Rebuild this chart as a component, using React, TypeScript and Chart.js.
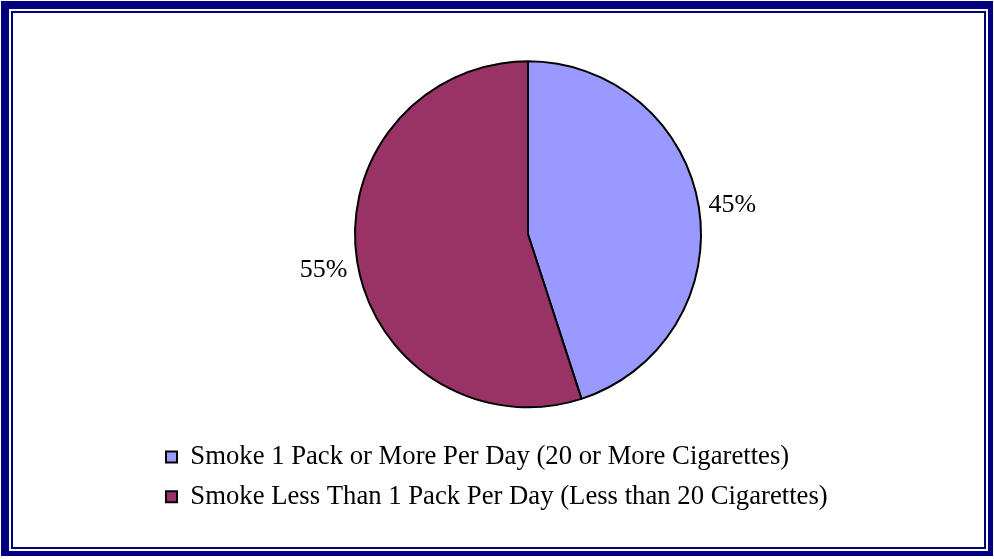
import React, { useEffect, useRef } from "react";
import { Chart, registerables } from "chart.js";

Chart.register(...registerables);

const categories = [
  "Smoke 1 Pack or More Per Day (20 or More Cigarettes)",
  "Smoke Less Than 1 Pack Per Day (Less than 20 Cigarettes)",
];
const shares = [45, 55];
const sliceColors = ["#9999FF", "#993366"];

const SERIF = "'Liberation Serif', 'Times New Roman', Times, serif";
const NAVY = "#000080";

// Percentage labels placed just outside each slice, along its mid angle
const outsideLabels = {
  id: "outsideLabels",
  afterDatasetsDraw(chart: Chart) {
    const { ctx } = chart;
    const meta = chart.getDatasetMeta(0);
    const values = chart.data.datasets[0].data as number[];
    const total = values.reduce((a, b) => a + b, 0);
    ctx.save();
    ctx.font = `26px ${SERIF}`;
    ctx.fillStyle = "#000";
    ctx.textAlign = "center";
    ctx.textBaseline = "middle";
    meta.data.forEach((el: any, i: number) => {
      const { x, y, startAngle, endAngle, outerRadius } = el.getProps(
        ["x", "y", "startAngle", "endAngle", "outerRadius"],
        true
      );
      const mid = (startAngle + endAngle) / 2;
      const r = outerRadius + 34;
      const pct = Math.round((values[i] / total) * 100);
      ctx.fillText(`${pct}%`, x + Math.cos(mid) * r, y + Math.sin(mid) * r + 3);
    });
    ctx.restore();
  },
};

export default function App() {
  const canvasRef = useRef<HTMLCanvasElement | null>(null);

  useEffect(() => {
    if (!canvasRef.current) return;
    const chart = new Chart(canvasRef.current, {
      type: "pie",
      data: {
        labels: categories,
        datasets: [
          {
            data: shares,
            backgroundColor: sliceColors,
            borderColor: "#000",
            borderWidth: 2,
          },
        ],
      },
      options: {
        animation: false,
        responsive: false,
        radius: 173,
        layout: { padding: { top: 38, left: 153, right: 91, bottom: 39 } },
        plugins: {
          tooltip: { enabled: false },
          legend: {
            position: "bottom",
            align: "start",
            labels: {
              boxWidth: 11,
              boxHeight: 11,
              padding: 13,
              color: "#000",
              font: { family: SERIF, size: 26.7 },
              generateLabels: (c: Chart) =>
                (c.data.labels as string[]).map((text, i) => ({
                  text,
                  fillStyle: sliceColors[i],
                  strokeStyle: "#000",
                  lineWidth: 2,
                  hidden: false,
                  index: i,
                  fontColor: "#000",
                })),
            },
          },
        },
      },
      plugins: [outsideLabels],
    });
    return () => chart.destroy();
  }, []);

  return (
    <div
      style={{
        position: "fixed",
        left: 0,
        top: 0,
        width: 994,
        height: 559,
        background: "#fff",
      }}
    >
      <div
        style={{
          position: "absolute",
          left: 1,
          top: 1,
          width: 992,
          height: 555,
          boxSizing: "border-box",
          borderStyle: "solid",
          borderColor: NAVY,
          borderWidth: "8px 5px 5px 8px",
        }}
      />
      <div
        style={{
          position: "absolute",
          left: 11,
          top: 11,
          width: 975,
          height: 538,
          boxSizing: "border-box",
          border: `2px solid ${NAVY}`,
        }}
      />
      <canvas
        ref={canvasRef}
        width={994}
        height={559}
        style={{ position: "absolute", left: 0, top: 0 }}
      />
    </div>
  );
}
